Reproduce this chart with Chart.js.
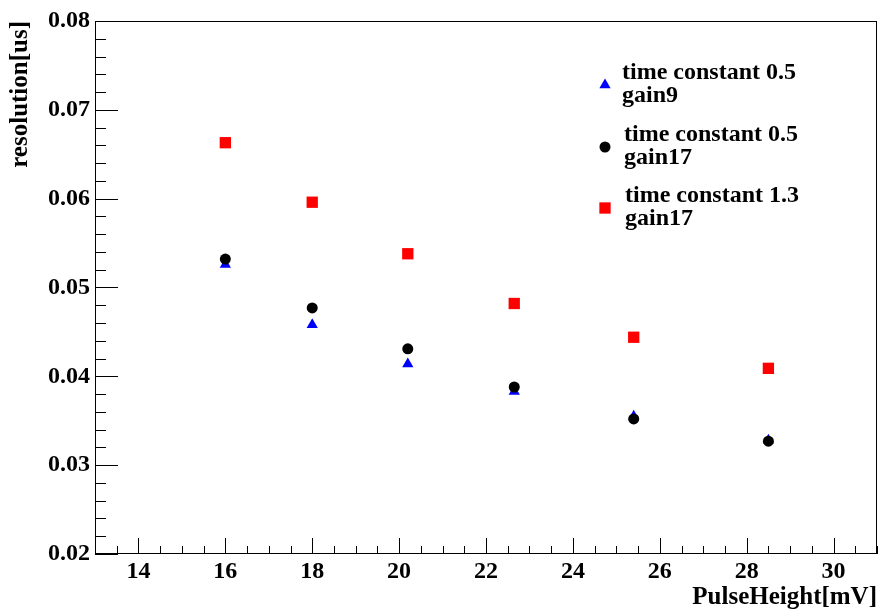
<!DOCTYPE html>
<html>
<head>
<meta charset="utf-8">
<script src="https://cdn.jsdelivr.net/npm/chart.js@4.4.1/dist/chart.umd.min.js"></script>
<style>
  html, body { margin: 0; padding: 0; background: #fff; }
  #wrap { width: 885px; height: 613px; }
</style>
</head>
<body>
<div id="wrap"><canvas id="chart"></canvas></div>
<script>
// values
const pulseHeight = [16, 18, 20.2, 22.65, 25.4, 28.5];
const tc05gain9  = [0.0526, 0.0458, 0.0414, 0.0383, 0.0355, 0.0328];
const tc05gain17 = [0.0532, 0.0477, 0.0431, 0.0388, 0.0352, 0.0327];
const tc13gain17 = [0.0663, 0.0596, 0.0538, 0.0482, 0.0444, 0.0409];
const seriesLabels = [
    ["time constant 0.5", "gain9"],
    ["time constant 0.5", "gain17"],
    ["time constant 1.3", "gain17"],
];
const xTickValues = [14, 16, 18, 20, 22, 24, 26, 28, 30];
const yTickValues = [0.02, 0.03, 0.04, 0.05, 0.06, 0.07, 0.08];

const FONT = "'Liberation Serif', 'Times New Roman', serif";

function toPoints(ys) {
    return pulseHeight.map((x, i) => ({ x: x, y: ys[i] }));
}

// ROOT style frame with ticks pointing inward
const rootFrame = {
    id: "rootFrame",
    beforeDatasetsDraw(chart) {
        const { ctx, chartArea: a, scales } = chart;
        ctx.save();
        ctx.strokeStyle = "#000";
        ctx.lineWidth = 1;
        ctx.strokeRect(a.left + 0.5, a.top + 0.5, a.right - a.left - 1, a.bottom - a.top - 1);
        ctx.beginPath();
        // y ticks, minor every 0.002
        for (let i = 0; i <= 30; i++) {
            const y = Math.round(scales.y.getPixelForValue(0.02 + i * 0.002)) + 0.5;
            const len = i % 5 === 0 ? 23 : 11;
            ctx.moveTo(a.left, y);
            ctx.lineTo(a.left + len, y);
        }
        // x ticks, minor every 0.5
        for (let i = 0; i <= 36; i++) {
            const v = 13 + i * 0.5;
            const x = Math.round(scales.x.getPixelForValue(v)) + 0.5;
            const len = v % 2 === 0 ? 16 : 8;
            ctx.moveTo(x, a.bottom);
            ctx.lineTo(x, a.bottom - len);
        }
        ctx.stroke();
        ctx.restore();
    },
};

// two-line legend entries, no box
const rootLegend = {
    id: "rootLegend",
    afterDraw(chart) {
        const { ctx } = chart;
        const markerX = 605;
        const rowY = [85, 147, 208];
        const textX = [622, 624, 625];
        ctx.save();
        chart.data.datasets.forEach((ds, i) => {
            ctx.fillStyle = ds.backgroundColor;
            ctx.strokeStyle = ds.backgroundColor;
            Chart.helpers.drawPoint(ctx, {
                pointStyle: ds.pointStyle,
                radius: ds.pointRadius,
                borderWidth: 0,
                rotation: 0,
            }, markerX, rowY[i]);
            ctx.fillStyle = "#000";
            ctx.font = "bold 24px " + FONT;
            ctx.textAlign = "left";
            ctx.textBaseline = "alphabetic";
            ctx.fillText(seriesLabels[i][0], textX[i], rowY[i] - 6);
            ctx.fillText(seriesLabels[i][1], textX[i], rowY[i] + 17);
        });
        ctx.restore();
    },
};

new Chart(document.getElementById("chart"), {
    type: "scatter",
    data: {
        datasets: [
            {
                label: seriesLabels[0].join(" "),
                data: toPoints(tc05gain9),
                pointStyle: "triangle",
                pointRadius: 6.5,
                backgroundColor: "#0000ff",
                borderColor: "#0000ff",
                borderWidth: 0,
                order: 3,
            },
            {
                label: seriesLabels[1].join(" "),
                data: toPoints(tc05gain17),
                pointStyle: "circle",
                pointRadius: 5.5,
                backgroundColor: "#000000",
                borderColor: "#000000",
                borderWidth: 0,
                order: 2,
            },
            {
                label: seriesLabels[2].join(" "),
                data: toPoints(tc13gain17),
                pointStyle: "rect",
                pointRadius: 8,
                backgroundColor: "#ff0000",
                borderColor: "#ff0000",
                borderWidth: 0,
                order: 1,
            },
        ],
    },
    options: {
        responsive: true,
        maintainAspectRatio: false,
        animation: false,
        events: [],
        layout: { padding: { top: 21, right: 5, left: 0, bottom: 0 } },
        plugins: {
            legend: { display: false },
            tooltip: { enabled: false },
        },
        scales: {
            x: {
                type: "linear",
                min: 13,
                max: 31,
                afterBuildTicks: (s) => { s.ticks = xTickValues.map((v) => ({ value: v })); },
                afterFit: (s) => { s.height = 59; },
                grid: { display: false, drawTicks: false },
                border: { display: false },
                ticks: {
                    padding: 3,
                    color: "#000",
                    maxRotation: 0,
                    autoSkip: false,
                    font: { family: FONT, size: 24, weight: "bold" },
                },
                title: {
                    display: true,
                    text: "PulseHeight[mV]",
                    align: "end",
                    color: "#000",
                    padding: { top: 1, bottom: 0 },
                    font: { family: FONT, size: 25, weight: "bold" },
                },
            },
            y: {
                type: "linear",
                min: 0.02,
                max: 0.08,
                afterBuildTicks: (s) => { s.ticks = yTickValues.map((v) => ({ value: v })); },
                afterFit: (s) => { s.width = 95; },
                grid: { display: false, drawTicks: false },
                border: { display: false },
                ticks: {
                    padding: 5,
                    color: "#000",
                    autoSkip: false,
                    font: { family: FONT, size: 24, weight: "bold" },
                    callback: (v) => Number(v).toFixed(2),
                },
                title: {
                    display: true,
                    text: "resolution[us]",
                    align: "end",
                    color: "#000",
                    padding: { top: 6, bottom: 0 },
                    font: { family: FONT, size: 25, weight: "bold" },
                },
            },
        },
    },
    plugins: [rootFrame, rootLegend],
});
</script>
</body>
</html>
